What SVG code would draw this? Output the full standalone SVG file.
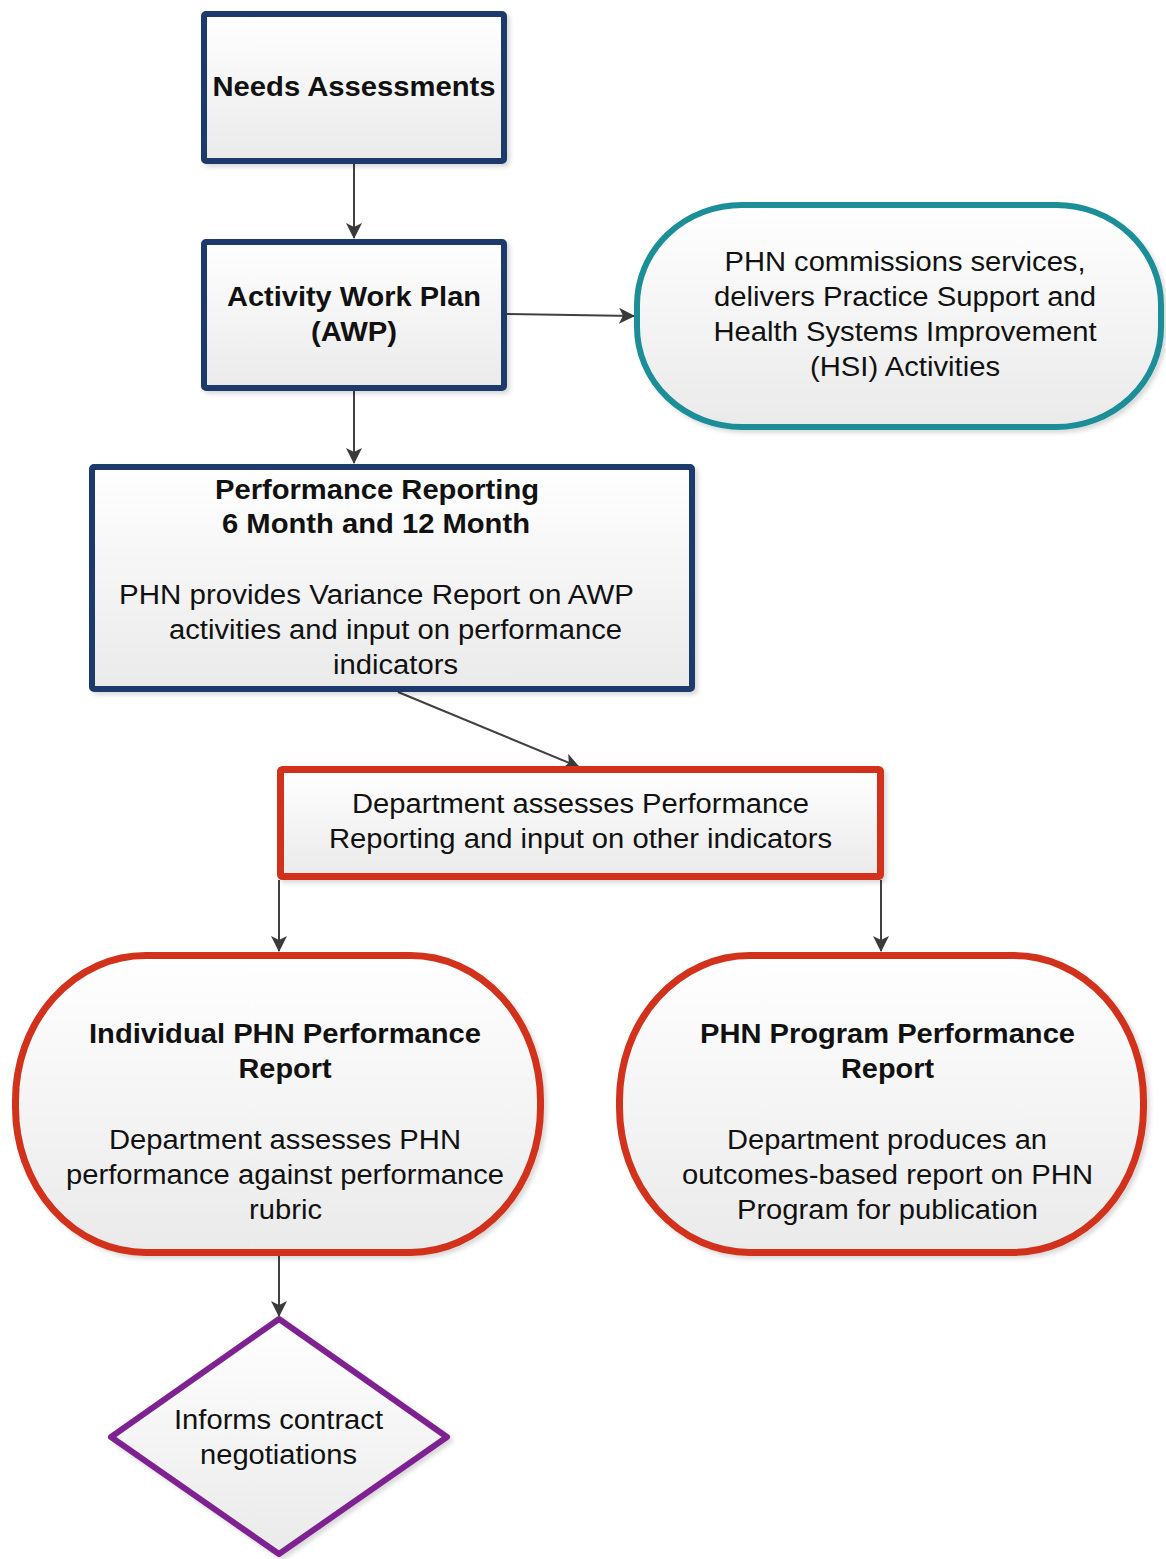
<svg xmlns="http://www.w3.org/2000/svg" width="1166" height="1559" viewBox="0 0 1166 1559">
<defs>
<linearGradient id="fill" x1="0" y1="0" x2="0" y2="1">
<stop offset="0" stop-color="#ffffff"/>
<stop offset="1" stop-color="#eaeaea"/>
</linearGradient>
<filter id="sh" x="-5%" y="-5%" width="112%" height="115%">
<feDropShadow dx="3" dy="3" stdDeviation="2" flood-color="#000" flood-opacity="0.15"/>
</filter>
<marker id="arr" viewBox="0 0 16 16" refX="15" refY="8" markerWidth="16" markerHeight="16" markerUnits="userSpaceOnUse" orient="auto">
<path d="M0,0 L16,8 L0,16 L4,8 Z" fill="#3a3a3a"/>
</marker>
<style>
.shape{fill:url(#fill);filter:url(#sh);}
.navy{stroke:#1e3a6c;stroke-width:6;}
.teal{stroke:#1a8e98;stroke-width:6;}
.red{stroke:#d2301b;stroke-width:7;}
.purple{stroke:#7e2391;stroke-width:6;}
text{font-family:"Liberation Sans",Arial,sans-serif;font-size:27px;fill:#111;text-anchor:middle;}
.b{font-weight:bold;}
.conn line{stroke:#404040;stroke-width:2;marker-end:url(#arr);}
</style>
</defs>
<g class="conn" id="connectors">
<line x1="354" y1="164" x2="354" y2="238"/>
<line x1="507" y1="314" x2="634" y2="316"/>
<line x1="354" y1="391" x2="354" y2="463"/>
<line x1="398" y1="692" x2="579" y2="767"/>
<line x1="279" y1="880" x2="279" y2="951"/>
<line x1="881" y1="880" x2="881" y2="951"/>
<line x1="279" y1="1256" x2="279" y2="1316"/>
</g>
<g id="needs">
<rect class="shape navy" x="204" y="14" width="300" height="147" rx="2"/>
<text class="b" x="354" y="96" textLength="283" lengthAdjust="spacingAndGlyphs">Needs Assessments</text>
</g>
<g id="awp">
<rect class="shape navy" x="204" y="242" width="300" height="146" rx="2"/>
<text class="b" x="354" y="306" textLength="254" lengthAdjust="spacingAndGlyphs">Activity Work Plan</text>
<text class="b" x="354" y="341" textLength="86" lengthAdjust="spacingAndGlyphs">(AWP)</text>
</g>
<g id="phn-commissions">
<rect class="shape teal" x="637" y="205" width="524" height="222" rx="105" ry="100"/>
<text x="905" y="271" textLength="361" lengthAdjust="spacingAndGlyphs">PHN commissions services,</text>
<text x="905" y="306" textLength="382" lengthAdjust="spacingAndGlyphs">delivers Practice Support and</text>
<text x="905" y="341" textLength="383" lengthAdjust="spacingAndGlyphs">Health Systems Improvement</text>
<text x="905" y="376" textLength="190" lengthAdjust="spacingAndGlyphs">(HSI) Activities</text>
</g>
<g id="performance-reporting">
<rect class="shape navy" x="92" y="467" width="600" height="222" rx="2"/>
<text class="b" x="377" y="499" textLength="324" lengthAdjust="spacingAndGlyphs">Performance Reporting</text>
<text class="b" x="376" y="533" textLength="308" lengthAdjust="spacingAndGlyphs">6 Month and 12 Month</text>
<text x="376.5" y="604" textLength="515" lengthAdjust="spacingAndGlyphs">PHN provides Variance Report on AWP</text>
<text x="395.5" y="639" textLength="453" lengthAdjust="spacingAndGlyphs">activities and input on performance</text>
<text x="395.5" y="674" textLength="125" lengthAdjust="spacingAndGlyphs">indicators</text>
</g>
<g id="department-assesses">
<rect class="shape red" x="280.5" y="769.5" width="600" height="107" rx="2"/>
<text x="580.5" y="813" textLength="457" lengthAdjust="spacingAndGlyphs">Department assesses Performance</text>
<text x="580.5" y="848" textLength="503" lengthAdjust="spacingAndGlyphs">Reporting and input on other indicators</text>
</g>
<g id="individual-report">
<rect class="shape red" x="15.5" y="955.5" width="525" height="297" rx="130" ry="145"/>
<text class="b" x="285" y="1043" textLength="392" lengthAdjust="spacingAndGlyphs">Individual PHN Performance</text>
<text class="b" x="285" y="1078" textLength="93" lengthAdjust="spacingAndGlyphs">Report</text>
<text x="285" y="1149" textLength="352" lengthAdjust="spacingAndGlyphs">Department assesses PHN</text>
<text x="285" y="1184" textLength="438" lengthAdjust="spacingAndGlyphs">performance against performance</text>
<text x="285.5" y="1219" textLength="73" lengthAdjust="spacingAndGlyphs">rubric</text>
</g>
<g id="program-report">
<rect class="shape red" x="619.5" y="955.5" width="524" height="297" rx="130" ry="145"/>
<text class="b" x="887.5" y="1043" textLength="375" lengthAdjust="spacingAndGlyphs">PHN Program Performance</text>
<text class="b" x="887.5" y="1078" textLength="93" lengthAdjust="spacingAndGlyphs">Report</text>
<text x="887" y="1149" textLength="320" lengthAdjust="spacingAndGlyphs">Department produces an</text>
<text x="887.5" y="1184" textLength="411" lengthAdjust="spacingAndGlyphs">outcomes-based report on PHN</text>
<text x="887.5" y="1219" textLength="301" lengthAdjust="spacingAndGlyphs">Program for publication</text>
</g>
<g id="contract">
<polygon class="shape purple" points="279,1319 447,1437 279,1554 111,1437" stroke-linejoin="round"/>
<text x="278.5" y="1429" textLength="209" lengthAdjust="spacingAndGlyphs">Informs contract</text>
<text x="278.5" y="1464" textLength="157" lengthAdjust="spacingAndGlyphs">negotiations</text>
</g>
</svg>
